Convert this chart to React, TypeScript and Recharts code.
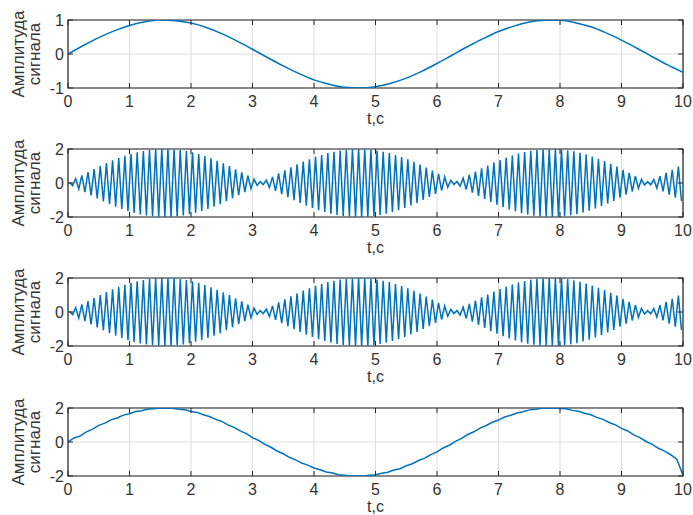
import { LineChart, Line, XAxis, YAxis, CartesianGrid, ReferenceArea } from "recharts";

// ─── DATA ─────────────────────────────────────────────────────────────────────

const TIME_TICKS = [0, 1, 2, 3, 4, 5, 6, 7, 8, 9, 10];

// reference sine, sampled every 0.25 s
const SINE_STEP = 0.25;
const sineValues = [
    0.00, 0.25, 0.48, 0.68, 0.84, 0.95, 1.00, 0.98, 0.91, 0.78,
    0.60, 0.38, 0.14, -0.11, -0.35, -0.57, -0.76, -0.89, -0.98, -1.00,
    -0.96, -0.86, -0.71, -0.51, -0.28, -0.03, 0.22, 0.45, 0.66, 0.82,
    0.94, 0.99, 0.99, 0.92, 0.80, 0.62, 0.41, 0.17, -0.08, -0.32,
    -0.54,
];

// modulated signal: carrier peaks, one per half period (0.05 s)
const PEAK_START = 0.025;
const PEAK_STEP = 0.05;
const amPeaks = [
    0.05, -0.15, 0.25, -0.35, 0.45, -0.54, 0.64, -0.73, 0.82, -0.91, 1.00, -1.09, 1.17, -1.25, 1.33, -1.40, 1.47, -1.53, 1.60, -1.66,
    1.71, -1.76, 1.80, -1.85, 1.88, -1.91, 1.94, -1.96, 1.98, -1.99, 2.00, -2.00, 2.00, -1.99, 1.98, -1.96, 1.94, -1.91, 1.88, -1.84,
    1.80, -1.75, 1.70, -1.65, 1.59, -1.52, 1.46, -1.39, 1.31, -1.24, 1.16, -1.07, 0.99, -0.90, 0.81, -0.72, 0.62, -0.53, 0.43, -0.33,
    0.23, -0.14, 0.08, -0.09, 0.17, -0.27, 0.36, -0.46, 0.56, -0.65, 0.74, -0.84, 0.92, -1.01, 1.10, -1.18, 1.26, -1.33, 1.40, -1.47,
    1.54, -1.60, 1.65, -1.71, 1.76, -1.80, 1.84, -1.88, 1.91, -1.94, 1.96, -1.97, 1.99, -2.00, 2.00, -2.00, 1.99, -1.98, 1.96, -1.94,
    1.91, -1.88, 1.84, -1.80, 1.76, -1.71, 1.65, -1.60, 1.53, -1.47, 1.40, -1.32, 1.25, -1.17, 1.09, -1.00, 0.91, -0.82, 0.73, -0.64,
    0.54, -0.44, 0.35, -0.25, 0.16, -0.09, 0.09, -0.18, 0.28, -0.38, 0.48, -0.57, 0.67, -0.76, 0.86, -0.94, 1.03, -1.12, 1.20, -1.28,
    1.35, -1.42, 1.49, -1.56, 1.62, -1.67, 1.73, -1.77, 1.82, -1.86, 1.89, -1.92, 1.95, -1.97, 1.98, -1.99, 2.00, -2.00, 2.00, -1.99,
    1.97, -1.95, 1.93, -1.90, 1.86, -1.83, 1.78, -1.73, 1.68, -1.63, 1.56, -1.50, 1.43, -1.36, 1.29, -1.21, 1.13, -1.05, 0.96, -0.87,
    0.78, -0.69, 0.60, -0.50, 0.41, -0.31, 0.21, -0.12, 0.08, -0.11, 0.20, -0.30, 0.40, -0.49, 0.59, -0.69, 0.78, -0.87, 0.96, -1.05,
];

// recovered signal, sampled every 0.1 s
const NOISY_STEP = 0.1;
const recoveredValues = [
    0.00, 0.24, 0.36, 0.60, 0.76, 0.98, 1.11, 1.30, 1.41, 1.58,
    1.66, 1.79, 1.84, 1.94, 1.96, 2.00, 1.99, 1.98, 1.93, 1.90,
    1.80, 1.74, 1.60, 1.50, 1.33, 1.21, 1.01, 0.86, 0.65, 0.49,
    0.26, 0.09, -0.14, -0.31, -0.53, -0.69, -0.90, -1.05, -1.24, -1.36,
    -1.53, -1.63, -1.76, -1.82, -1.92, -1.95, -2.00, -1.99, -2.00, -1.95,
    -1.93, -1.84, -1.78, -1.65, -1.57, -1.40, -1.28, -1.09, -0.95, -0.74,
    -0.58, -0.35, -0.19, 0.04, 0.21, 0.44, 0.60, 0.82, 0.97, 1.16,
    1.29, 1.47, 1.57, 1.71, 1.78, 1.89, 1.92, 1.99, 1.99, 2.00,
    1.97, 1.95, 1.86, 1.81, 1.69, 1.60, 1.45, 1.33, 1.15, 1.01,
    0.80, 0.65, 0.42, 0.26, 0.03, -0.14, -0.37, -0.54, -0.75, -1.02,
    -1.95,
];

// ─── LAYOUT ───────────────────────────────────────────────────────────────────

const W = 693;
const H = 130;
const PLOT_LEFT = 68;
const PLOT_RIGHT = 683;
const PLOT_TOP = 20;
const PLOT_BOTTOM = 88;
const TICK_LEN = 5;

const FONT = "'Liberation Sans', Arial, sans-serif";
const TEXT = "#333333";
const AXIS = "#262626";
const LINE = "#0072BD";

const toSeries = (values: number[], start: number, step: number) =>
    values.map((v, i) => ({ t: +(start + i * step).toFixed(3), v }));

// ─── AXIS PIECES ──────────────────────────────────────────────────────────────

function XTick({ x, payload }: any) {
    return (
        <g>
            <line x1={x} x2={x} y1={PLOT_BOTTOM} y2={PLOT_BOTTOM - TICK_LEN} stroke={AXIS} />
            <line x1={x} x2={x} y1={PLOT_TOP} y2={PLOT_TOP + TICK_LEN} stroke={AXIS} />
            <text x={x} y={PLOT_BOTTOM + 13} textAnchor="middle" dominantBaseline="central"
                fontFamily={FONT} fontSize={16} fill={TEXT}>
                {payload.value}
            </text>
        </g>
    );
}

function YTick({ y, payload }: any) {
    return (
        <g>
            <line x1={PLOT_LEFT} x2={PLOT_LEFT + TICK_LEN} y1={y} y2={y} stroke={AXIS} />
            <line x1={PLOT_RIGHT} x2={PLOT_RIGHT - TICK_LEN} y1={y} y2={y} stroke={AXIS} />
            <text x={PLOT_LEFT - 4} y={y} textAnchor="end" dominantBaseline="central"
                fontFamily={FONT} fontSize={16} fill={TEXT}>
                {payload.value}
            </text>
        </g>
    );
}

function YTitle() {
    const cy = (PLOT_TOP + PLOT_BOTTOM) / 2;
    return (
        <g fontFamily={FONT} fontSize={17} fill={TEXT}>
            <text transform={`translate(18, ${cy}) rotate(-90)`} textAnchor="middle" dominantBaseline="central">
                Амплитуда
            </text>
            <text transform={`translate(34, ${cy}) rotate(-90)`} textAnchor="middle" dominantBaseline="central">
                сигнала
            </text>
        </g>
    );
}

function XTitle() {
    return (
        <text x={(PLOT_LEFT + PLOT_RIGHT) / 2} y={PLOT_BOTTOM + 30} textAnchor="middle" dominantBaseline="central"
            fontFamily={FONT} fontSize={16} fill={TEXT}>
            t,c
        </text>
    );
}

// ─── PANEL ────────────────────────────────────────────────────────────────────

interface PanelProps {
    data: { t: number; v: number }[];
    limit: number;
    smooth?: boolean;
    top: number;
}

function Panel({ data, limit, smooth, top }: PanelProps) {
    return (
        <div style={{ position: "absolute", left: 0, top }}>
            <LineChart width={W} height={H} data={data}
                margin={{ top: PLOT_TOP, right: W - PLOT_RIGHT, bottom: 0, left: 0 }}>
                <CartesianGrid stroke="#dedede" />
                <XAxis dataKey="t" type="number" domain={[0, 10]} ticks={TIME_TICKS} interval={0}
                    height={H - PLOT_BOTTOM} axisLine={false} tickLine={false} tick={<XTick />}
                    allowDataOverflow label={<XTitle />} />
                <YAxis type="number" domain={[-limit, limit]} ticks={[-limit, 0, limit]} interval={0}
                    width={PLOT_LEFT} axisLine={false} tickLine={false} tick={<YTick />}
                    allowDataOverflow label={<YTitle />} />
                <Line dataKey="v" type={smooth ? "monotone" : "linear"} stroke={LINE} strokeWidth={1.5}
                    dot={false} activeDot={false} isAnimationActive={false} />
                <ReferenceArea x1={0} x2={10} y1={-limit} y2={limit} fill="none" stroke={AXIS} strokeWidth={1.2} />
            </LineChart>
        </div>
    );
}

export default function App() {
    const sine = toSeries(sineValues, 0, SINE_STEP);
    const am = toSeries(amPeaks, PEAK_START, PEAK_STEP);
    const recovered = toSeries(recoveredValues, 0, NOISY_STEP);

    return (
        <div style={{ position: "relative", width: W, height: 515, background: "#fff", overflow: "hidden" }}>
            <style>{"body { margin: 0; }"}</style>
            <Panel data={sine} limit={1} smooth top={0} />
            <Panel data={am} limit={2} top={129} />
            <Panel data={am} limit={2} top={258} />
            <Panel data={recovered} limit={2} top={388} />
        </div>
    );
}
